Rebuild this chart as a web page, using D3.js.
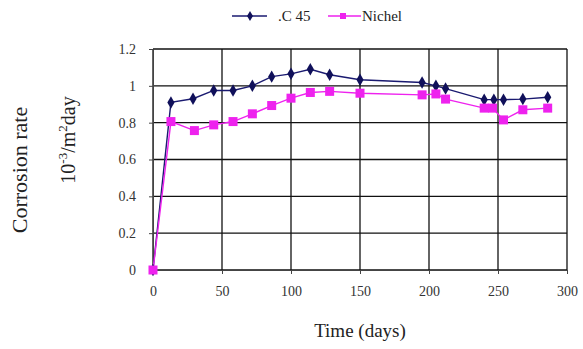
<!DOCTYPE html>
<html>
<head>
<meta charset="utf-8">
<script src="https://cdn.jsdelivr.net/npm/d3@7"></script>
<style>
  body { margin: 0; background: #fff; }
</style>
</head>
<body>
<div id="chart"></div>
<script>
// data
var days_c45 = [0, 13, 29, 44, 58, 72, 86, 100, 114, 128, 150, 195, 205, 212, 240, 247, 254, 268, 286];
var rate_c45 = [0, 0.91, 0.93, 0.975, 0.975, 1.0, 1.05, 1.065, 1.09, 1.06, 1.033, 1.018, 1.0, 0.985, 0.925, 0.925, 0.925, 0.928, 0.938];
var days_ni = [0, 13, 30, 44, 58, 72, 86, 100, 114, 128, 150, 195, 205, 212, 240, 246, 254, 268, 286];
var rate_ni = [0, 0.806, 0.757, 0.788, 0.806, 0.848, 0.893, 0.933, 0.964, 0.97, 0.96, 0.951, 0.956, 0.928, 0.879, 0.879, 0.815, 0.87, 0.879];
var xTicks = [0, 50, 100, 150, 200, 250, 300];
var yTicks = [0, 0.2, 0.4, 0.6, 0.8, 1, 1.2];
var seriesNames = [".C 45", "Nichel"];

var FONT = "'Liberation Serif', 'Times New Roman', 'DejaVu Serif', serif";
var W = 583, H = 349;
var margin = {top: 49, right: 16, bottom: 79, left: 153},
    width = W - margin.left - margin.right,
    height = H - margin.top - margin.bottom;

var svg = d3.select("#chart").append("svg")
    .attr("width", W).attr("height", H)
    .attr("font-family", FONT);
var g = svg.append("g")
    .attr("transform", "translate(" + margin.left + "," + margin.top + ")");

var x = d3.scaleLinear().domain([0, 300]).range([0, width]);
var y = d3.scaleLinear().domain([0, 1.2]).range([height, 0]);

// grid
g.append("g").selectAll("line").data(yTicks).enter().append("line")
  .attr("x1", 0).attr("x2", width)
  .attr("y1", d => y(d)).attr("y2", d => y(d))
  .attr("stroke", "#111").attr("stroke-width", 1.3);
g.append("g").selectAll("line").data(xTicks).enter().append("line")
  .attr("y1", 0).attr("y2", height)
  .attr("x1", d => x(d)).attr("x2", d => x(d))
  .attr("stroke", "#111").attr("stroke-width", 1.3);

// axes
var xAxis = g.append("g").attr("transform", "translate(0," + height + ")")
  .call(d3.axisBottom(x).tickValues(xTicks).tickSize(4).tickPadding(12));
var yAxis = g.append("g")
  .call(d3.axisLeft(y).tickValues(yTicks).tickSize(4).tickPadding(13).tickFormat(d3.format("")));
[xAxis, yAxis].forEach(function (a) {
  a.attr("font-family", FONT).attr("font-size", 14);
  a.selectAll("text").attr("fill", "#333");
  a.select(".domain").attr("stroke", "#444");
  a.selectAll(".tick line").attr("stroke", "#444");
});

var line = d3.line().x(d => x(d[0])).y(d => y(d[1]));
var c45 = days_c45.map((d, i) => [d, rate_c45[i]]);
var ni = days_ni.map((d, i) => [d, rate_ni[i]]);

g.append("path").datum(c45).attr("d", line)
  .attr("fill", "none").attr("stroke", "#1a1a70").attr("stroke-width", 1.4);
g.append("path").datum(ni).attr("d", line)
  .attr("fill", "none").attr("stroke", "#ee22ee").attr("stroke-width", 1.4);

var diamond = d3.symbol().type(d3.symbolDiamond).size(45);
g.selectAll(".pc").data(c45).enter().append("path")
  .attr("d", diamond)
  .attr("transform", d => "translate(" + x(d[0]) + "," + y(d[1]) + ")")
  .attr("fill", "#10105a");
g.selectAll(".pn").data(ni).enter().append("rect")
  .attr("x", d => x(d[0]) - 4.5).attr("y", d => y(d[1]) - 4.5)
  .attr("width", 9).attr("height", 9)
  .attr("fill", "#ee22ee");

// legend
var leg = svg.append("g").attr("transform", "translate(0,16)");
leg.append("line").attr("x1", 232).attr("x2", 267).attr("y1", 0).attr("y2", 0)
  .attr("stroke", "#1a1a70").attr("stroke-width", 1.4);
leg.append("path").attr("d", d3.symbol().type(d3.symbolDiamond).size(30))
  .attr("transform", "translate(250,0)").attr("fill", "#10105a");
leg.append("text").attr("x", 278).attr("y", 5).attr("font-size", 15).attr("fill", "#222").text(seriesNames[0]);
leg.append("line").attr("x1", 328).attr("x2", 361).attr("y1", 0).attr("y2", 0)
  .attr("stroke", "#ee22ee").attr("stroke-width", 1.4);
leg.append("rect").attr("x", 340).attr("y", -3).attr("width", 6).attr("height", 6).attr("fill", "#ee22ee");
leg.append("text").attr("x", 362).attr("y", 5).attr("font-size", 15).attr("fill", "#222").text(seriesNames[1]);

// axis titles
svg.append("text")
  .attr("x", margin.left + width / 2).attr("y", 337)
  .attr("text-anchor", "middle").attr("font-size", 19).attr("fill", "#222")
  .text("Time (days)");

svg.append("text")
  .attr("transform", "translate(27,170) rotate(-90)")
  .attr("text-anchor", "middle").attr("font-size", 22).attr("fill", "#222")
  .text("Corrosion rate");

var t2 = svg.append("text")
  .attr("transform", "translate(75,140) rotate(-90)")
  .attr("text-anchor", "middle").attr("font-size", 20).attr("fill", "#222");
t2.append("tspan").text("10");
t2.append("tspan").attr("dy", -8).attr("font-size", 13).text("-3");
t2.append("tspan").attr("dy", 8).text("/m");
t2.append("tspan").attr("dy", -8).attr("font-size", 13).text("2");
t2.append("tspan").attr("dy", 8).text("day");
</script>
</body>
</html>
